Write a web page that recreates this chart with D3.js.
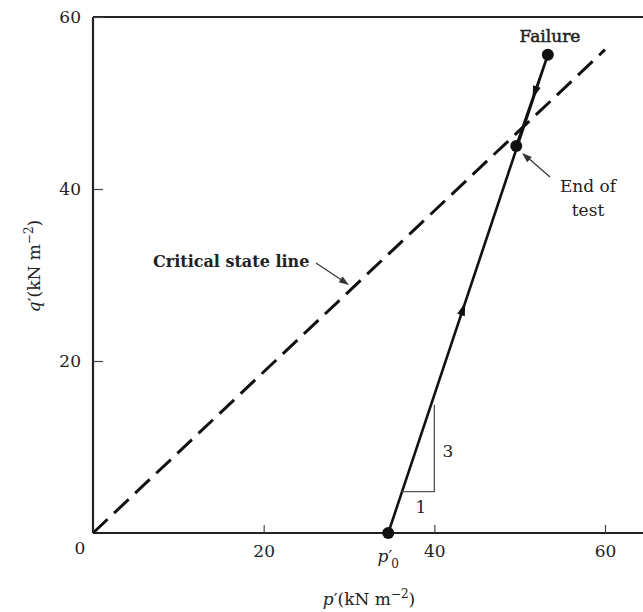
<!DOCTYPE html>
<html><head><meta charset="utf-8">
<script src="https://cdn.jsdelivr.net/npm/d3@7"></script>
<style>body{margin:0;background:#fff}svg{display:block}text{font-family:"DejaVu Serif","Liberation Serif",serif;fill:#222}</style>
</head><body><svg id="c" width="643" height="612"></svg>
<script>
const pTicks=[0,20,40,60];
const qTicks=[20,40,60];
const pathP=[34.6,53.3,49.6];
const pathQ=[0,55.6,45.0];
const pathNames=["p0","Failure","End of test"];
const cslP=[0,60];
const cslQ=[0,56.2];
const triP=[36.2,40,40];
const triQ=[4.8,4.8,14.9];

const svg=d3.select("#c");
const x=d3.scaleLinear().domain([0,60]).range([93,605]);
const y=d3.scaleLinear().domain([0,60]).range([533,17]);

// frame
svg.append("line").attr("x1",x(0)).attr("x2",643).attr("y1",y(60)).attr("y2",y(60)).attr("stroke","#222").attr("stroke-width",1.8);
svg.append("line").attr("x1",x(0)).attr("x2",643).attr("y1",y(0)).attr("y2",y(0)).attr("stroke","#222").attr("stroke-width",2.2);
svg.append("line").attr("x1",x(0)).attr("x2",x(0)).attr("y1",y(0)).attr("y2",y(60)).attr("stroke","#222").attr("stroke-width",2.2);

// axes
const xa=svg.append("g").attr("transform",`translate(0,${y(0)})`)
  .call(d3.axisBottom(x).tickValues(pTicks.filter(d=>d>0)).tickSize(-8).tickPadding(12).tickFormat(d3.format("d")));
const ya=svg.append("g").attr("transform",`translate(${x(0)},0)`)
  .call(d3.axisLeft(y).tickValues(qTicks).tickSize(-8).tickPadding(12).tickFormat(d3.format("d")));
[xa,ya].forEach(g=>{g.select(".domain").remove();g.selectAll(".tick line").attr("stroke","#444").attr("stroke-width",1.2);
  g.selectAll("text").attr("font-size",17).attr("fill","#333").style("font-family","DejaVu Serif");});
ya.selectAll(".tick line").attr("x2",10);
svg.append("text").attr("x",80).attr("y",554).attr("text-anchor","middle").attr("font-size",17).attr("fill","#333").text(pTicks[0]);

// CSL
svg.append("line").attr("x1",x(cslP[0])).attr("y1",y(cslQ[0])).attr("x2",x(cslP[1])).attr("y2",y(cslQ[1]))
  .attr("stroke","#111").attr("stroke-width",3).attr("stroke-dasharray","20,9");

// stress path
const line=d3.line().x((d,i)=>x(pathP[i])).y((d,i)=>y(pathQ[i]));
svg.append("path").datum(pathP).attr("d",line).attr("fill","none").attr("stroke","#111").attr("stroke-width",2.6);
svg.selectAll("circle.pt").data(pathP).enter().append("circle").attr("class","pt")
  .attr("cx",(d,i)=>x(pathP[i])).attr("cy",(d,i)=>y(pathQ[i])).attr("r",6).attr("fill","#111");

// arrowheads on path
function arrowHead(t,seg){
  const p0=[x(pathP[seg]),y(pathQ[seg])],p1=[x(pathP[seg+1]),y(pathQ[seg+1])];
  const cx=p0[0]+(p1[0]-p0[0])*t, cy=p0[1]+(p1[1]-p0[1])*t;
  const a=Math.atan2(p1[1]-p0[1],p1[0]-p0[0])*180/Math.PI;
  svg.append("path").attr("d","M6,0 L-7,-4 L-7,4 Z").attr("fill","#111")
    .attr("transform",`translate(${cx},${cy}) rotate(${a})`);
}
arrowHead(0.47,0);
arrowHead(0.42,1);

// slope triangle
svg.append("path").datum(triP).attr("d",d3.line().x((d,i)=>x(triP[i])).y((d,i)=>y(triQ[i])))
  .attr("fill","none").attr("stroke","#555").attr("stroke-width",1.3);
svg.append("text").attr("x",448).attr("y",457).attr("font-size",17).attr("fill","#333").attr("text-anchor","middle").text("3");
svg.append("text").attr("x",421).attr("y",513).attr("font-size",17).attr("fill","#333").attr("text-anchor","middle").text("1");

// annotations
svg.append("text").attr("x",550).attr("y",42).attr("text-anchor","middle").attr("font-size",17)
  .attr("stroke","#222").attr("stroke-width",0.5).text("Failure");
svg.append("text").attr("x",588).attr("y",192).attr("text-anchor","middle").attr("font-size",17).attr("fill","#333").text("End of");
svg.append("text").attr("x",588).attr("y",216).attr("text-anchor","middle").attr("font-size",17).attr("fill","#333").text("test");
svg.append("line").attr("x1",550).attr("y1",177).attr("x2",527).attr("y2",157).attr("stroke","#333").attr("stroke-width",1.2);
svg.append("path").attr("d","M0,0 L-10,-3.5 L-10,3.5 Z").attr("fill","#333")
  .attr("transform",`translate(522,153) rotate(${Math.atan2(157-177,527-550)*180/Math.PI})`);

svg.append("text").attr("x",153).attr("y",267).attr("font-size",16).attr("font-weight","bold").attr("fill","#2a2a2a").text("Critical state line");
svg.append("line").attr("x1",316).attr("y1",263).attr("x2",343).attr("y2",281).attr("stroke","#333").attr("stroke-width",1.2);
svg.append("path").attr("d","M0,0 L-10,-3.5 L-10,3.5 Z").attr("fill","#333")
  .attr("transform",`translate(349,285) rotate(${Math.atan2(281-263,343-316)*180/Math.PI})`);

// p0' label
const p0l=svg.append("text").attr("x",x(pathP[0])).attr("y",562).attr("text-anchor","middle").attr("font-size",17).attr("fill","#333");
p0l.append("tspan").attr("font-style","italic").text("p");
p0l.append("tspan").text("′");
p0l.append("tspan").attr("font-size",12).attr("dy",6).attr("dx",-1).text("0");

// axis titles
const xt=svg.append("text").attr("x",369).attr("y",605).attr("text-anchor","middle").attr("font-size",17).attr("fill","#333");
xt.append("tspan").attr("font-style","italic").text("p");
xt.append("tspan").text("′(kN m");
xt.append("tspan").attr("font-size",12).attr("dy",-7).text("−2");
xt.append("tspan").attr("dy",7).text(")");

const yt=svg.append("text").attr("transform","translate(40,266) rotate(-90)").attr("text-anchor","middle").attr("font-size",17).attr("fill","#333");
yt.append("tspan").attr("font-style","italic").text("q");
yt.append("tspan").text("′(kN m");
yt.append("tspan").attr("font-size",12).attr("dy",-7).text("−2");
yt.append("tspan").attr("dy",7).text(")");
</script></body></html>
